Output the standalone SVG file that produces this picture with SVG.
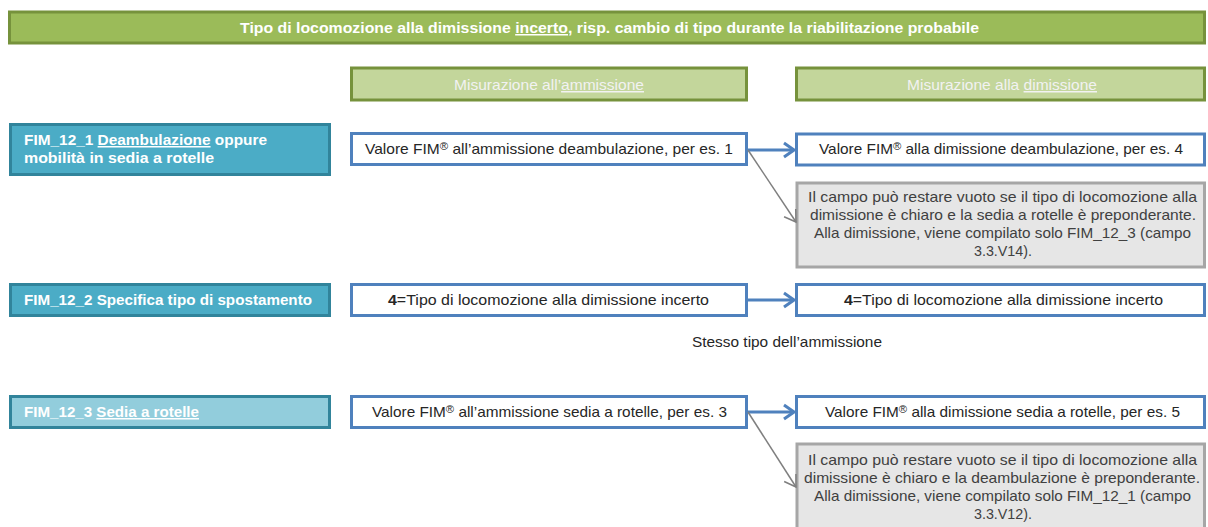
<svg xmlns="http://www.w3.org/2000/svg" width="1208" height="527" viewBox="0 0 1208 527">
<defs>
<style>
text{font-family:"Liberation Sans",Arial,sans-serif;font-size:15px;}
.title{fill:#9BBB59;stroke:#76923C;stroke-width:3;}
.head{fill:#C3D69B;stroke:#76923C;stroke-width:3;}
.fimd{fill:#4BACC6;stroke:#31849B;stroke-width:3;}
.fiml{fill:#92CDDC;stroke:#31849B;stroke-width:3;}
.val{fill:#FFFFFF;stroke:#4F81BD;stroke-width:3;}
.note{fill:#E6E6E6;stroke:#A6A6A6;stroke-width:3;}
.wb{fill:#FFFFFF;font-weight:bold;}
.hl{fill:#F2F2F2;}
.t{fill:#262626;}
.n{fill:#404040;text-anchor:middle;}
.u{text-decoration:underline;}
.sup{font-size:11px;}
.barrow{stroke:#4F81BD;stroke-width:3;fill:none;}
.garrow{stroke:#7F7F7F;stroke-width:1.5;fill:none;}
</style>
<marker id="mb" markerUnits="userSpaceOnUse" viewBox="-14 -10 16 20" refX="0" refY="0" markerWidth="16" markerHeight="20" orient="auto">
<path d="M-10,-7 L0,0 L-10,7" fill="none" stroke="#4F81BD" stroke-width="3"/>
</marker>
<marker id="mg" markerUnits="userSpaceOnUse" viewBox="-14 -10 16 20" refX="0" refY="0" markerWidth="16" markerHeight="20" orient="auto">
<path d="M-11,-7 L0,0 L-11,7" fill="none" stroke="#7F7F7F" stroke-width="1.5"/>
</marker>
</defs>
<rect width="1208" height="527" fill="#FFFFFF"/>

<g id="title">
<rect class="title" x="9.5" y="12" width="1195" height="31"/>
<text class="wb" x="240" y="33" textLength="739" lengthAdjust="spacingAndGlyphs">Tipo di locomozione alla dimissione <tspan class="u">incerto</tspan>, risp. cambio di tipo durante la riabilitazione probabile</text>
</g>

<g id="header-ammissione">
<rect class="head" x="351.5" y="68" width="395" height="32"/>
<text class="hl" x="454" y="90" textLength="190" lengthAdjust="spacingAndGlyphs">Misurazione all’<tspan class="u">ammissione</tspan></text>
</g>
<g id="header-dimissione">
<rect class="head" x="796.5" y="68" width="408" height="32"/>
<text class="hl" x="907" y="90" textLength="190" lengthAdjust="spacingAndGlyphs">Misurazione alla <tspan class="u">dimissione</tspan></text>
</g>

<g id="fim12_1">
<rect class="fimd" x="10.5" y="124.5" width="319" height="50"/>
<text class="wb" x="24" y="145" textLength="243" lengthAdjust="spacingAndGlyphs">FIM_12_1 <tspan class="u">Deambulazione</tspan> oppure</text>
<text class="wb" x="24" y="163" textLength="190" lengthAdjust="spacingAndGlyphs">mobilità in sedia a rotelle</text>
</g>
<g id="amm1">
<rect class="val" x="351.5" y="133.5" width="395" height="31"/>
<text class="t" x="365" y="154" textLength="368" lengthAdjust="spacingAndGlyphs">Valore FIM<tspan class="sup" dy="-4">®</tspan><tspan dy="4"> all’ammissione deambulazione, per es. 1</tspan></text>
</g>
<g id="dim1">
<rect class="val" x="796.5" y="134" width="408" height="31"/>
<text class="t" x="819" y="154" textLength="364" lengthAdjust="spacingAndGlyphs">Valore FIM<tspan class="sup" dy="-4">®</tspan><tspan dy="4"> alla dimissione deambulazione, per es. 4</tspan></text>
</g>
<g id="note1">
<rect class="note" x="797" y="183" width="407.5" height="84"/>
<text class="n" x="1002.5" y="202" textLength="389" lengthAdjust="spacingAndGlyphs">Il campo può restare vuoto se il tipo di locomozione alla</text>
<text class="n" x="1003" y="220" textLength="386" lengthAdjust="spacingAndGlyphs">dimissione è chiaro e la sedia a rotelle è preponderante.</text>
<text class="n" x="1002.5" y="238" textLength="377" lengthAdjust="spacingAndGlyphs">Alla dimissione, viene compilato solo FIM_12_3 (campo</text>
<text class="n" x="1003" y="256" textLength="58" lengthAdjust="spacingAndGlyphs">3.3.V14).</text>
</g>

<g id="fim12_2">
<rect class="fimd" x="10.5" y="284.5" width="319" height="31"/>
<text class="wb" x="24" y="305" textLength="288" lengthAdjust="spacingAndGlyphs">FIM_12_2 Specifica tipo di spostamento</text>
</g>
<g id="amm2">
<rect class="val" x="351.5" y="284.5" width="395" height="31"/>
<text class="t" x="388" y="305" textLength="321" lengthAdjust="spacingAndGlyphs"><tspan font-weight="bold">4</tspan>=Tipo di locomozione alla dimissione incerto</text>
</g>
<g id="dim2">
<rect class="val" x="796.5" y="284.5" width="408" height="31"/>
<text class="t" x="844" y="305" textLength="319" lengthAdjust="spacingAndGlyphs"><tspan font-weight="bold">4</tspan>=Tipo di locomozione alla dimissione incerto</text>
</g>
<g id="stesso">
<text class="t" x="692" y="347" textLength="190" lengthAdjust="spacingAndGlyphs">Stesso tipo dell’ammissione</text>
</g>

<g id="fim12_3">
<rect class="fiml" x="10.5" y="396.5" width="319" height="31"/>
<text class="wb" x="24" y="417" textLength="175" lengthAdjust="spacingAndGlyphs">FIM_12_3 <tspan class="u">Sedia a rotelle</tspan></text>
</g>
<g id="amm3">
<rect class="val" x="351.5" y="396.5" width="395" height="31"/>
<text class="t" x="372" y="417" textLength="355" lengthAdjust="spacingAndGlyphs">Valore FIM<tspan class="sup" dy="-4">®</tspan><tspan dy="4"> all’ammissione sedia a rotelle, per es. 3</tspan></text>
</g>
<g id="dim3">
<rect class="val" x="796.5" y="396.5" width="408" height="31"/>
<text class="t" x="825" y="417" textLength="355" lengthAdjust="spacingAndGlyphs">Valore FIM<tspan class="sup" dy="-4">®</tspan><tspan dy="4"> alla dimissione sedia a rotelle, per es. 5</tspan></text>
</g>
<g id="note2">
<rect class="note" x="797" y="444" width="407.5" height="90"/>
<text class="n" x="1002.5" y="465" textLength="389" lengthAdjust="spacingAndGlyphs">Il campo può restare vuoto se il tipo di locomozione alla</text>
<text class="n" x="1002" y="483" textLength="396" lengthAdjust="spacingAndGlyphs">dimissione è chiaro e la deambulazione è preponderante.</text>
<text class="n" x="1002.5" y="501" textLength="377" lengthAdjust="spacingAndGlyphs">Alla dimissione, viene compilato solo FIM_12_1 (campo</text>
<text class="n" x="1003" y="519" textLength="58" lengthAdjust="spacingAndGlyphs">3.3.V12).</text>
</g>

<g id="connectors">
<line class="barrow" x1="748" y1="150" x2="794" y2="150" marker-end="url(#mb)"/>
<line class="garrow" x1="748" y1="150" x2="796" y2="222" marker-end="url(#mg)"/>
<line class="barrow" x1="748" y1="300" x2="794" y2="300" marker-end="url(#mb)"/>
<line class="barrow" x1="748" y1="412" x2="794" y2="412" marker-end="url(#mb)"/>
<line class="garrow" x1="748" y1="412" x2="796" y2="487" marker-end="url(#mg)"/>
</g>
</svg>
